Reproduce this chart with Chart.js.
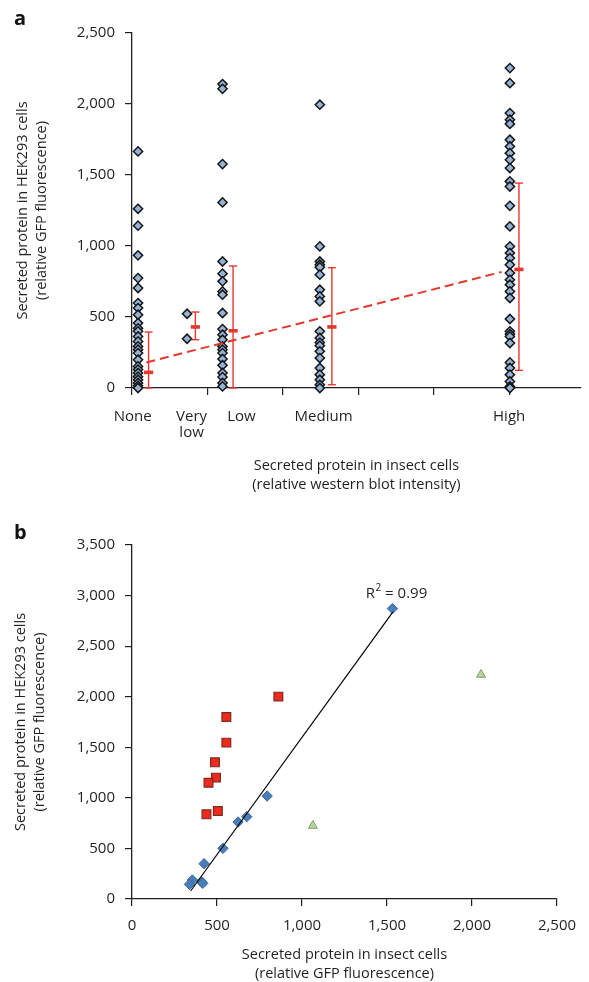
<!DOCTYPE html>
<html>
<head>
<meta charset="utf-8">
<title>Secreted protein: insect cells vs HEK293</title>
<script src="https://cdn.jsdelivr.net/npm/chart.js@4.4.0/dist/chart.umd.min.js"></script>
<style>
  html, body { margin: 0; padding: 0; background: #fff; }
  #wrap { position: relative; width: 589px; height: 982px; overflow: hidden; }
  canvas { position: absolute; left: 0; }
  #chartA { top: 0; }
  #chartB { top: 510px; }
  .panel { position: absolute; font-family: 'Open Sans', sans-serif; font-weight: 700;
           font-size: 20px; line-height: 20px; color: #111; }
</style>
</head>
<body>
<div id="wrap">
  <canvas id="chartA" width="589" height="500"></canvas>
  <canvas id="chartB" width="589" height="472"></canvas>
  <div class="panel" style="left:14px;top:8px">a</div>
  <div class="panel" style="left:14px;top:522px">b</div>
</div>
<script>
// -------------------------
// Panel a: datos
// -------------------------
const catNames  = [["None"], ["Very", "low"], ["Low"], ["Medium"], ["High"]];
const catX      = [0.08, 0.73, 1.2, 2.49, 5.01];   // columna de puntos
const catLabelX = [0.01, 0.79, 1.45, 2.54, 5.0];   // centro de la etiqueta

const noneY    = [1666, 1262, 1143, 934, 774, 704, 598, 563, 516, 457, 420, 399, 363, 328, 293, 270, 246, 199, 152, 130, 106, 80, 58, 35, 15, 0];
const veryLowY = [523, 347];
const lowY     = [2140, 2107, 1577, 1307, 891, 805, 751, 680, 657, 528, 415, 375, 340, 293, 270, 246, 204, 160, 106, 77, 35, 11];
const mediumY  = [1995, 997, 891, 868, 850, 798, 692, 645, 610, 399, 352, 320, 298, 258, 211, 141, 94, 58, 23, 0];
const highY    = [2253, 2147, 1936, 1889, 1860, 1748, 1701, 1654, 1607, 1549, 1455, 1419, 1283, 1138, 997, 950, 915, 868, 810, 762, 727, 680, 634, 486, 399, 380, 363, 317, 180, 141, 94, 46, 11, 0];

// barras de error (media, mínimo, máximo)
const errX    = [0.22, 0.84, 1.34, 2.65, 5.13];
const errMean = [110, 430, 403, 430, 835];
const errLow  = [0, 340, 0, 23, 124];
const errHigh = [394, 535, 859, 847, 1443];

// tendencia (extremos)
const trendX = [0.19, 4.9];
const trendY = [180, 817];

const yMaxA = 2500, yStepA = 500, xMaxA = 5.95;

// -------------------------
// Panel b: datos
// -------------------------
const blueX  = [1532, 795, 675, 624, 535, 424, 355, 338, 410, 416];
const blueY  = [2871, 1018, 814, 761, 501, 349, 188, 145, 171, 155];
const redX   = [861, 555, 555, 488, 494, 450, 505, 438];
const redY   = [2001, 1800, 1546, 1351, 1200, 1150, 870, 837];
const greenX = [2053, 1064];
const greenY = [2218, 725];
const fitX   = [345, 1536];
const fitY   = [79, 2841];
const r2Text = ["R", "2", " = 0.99"];
const r2At   = { x: 1375, y: 2980 };

const xMaxB = 2500, yMaxB = 3500, stepB = 500;

// -------------------------
// Estilo
// -------------------------
const RED = "#e03a2f";
const INK = "#231f20";
const FONT = "'Open Sans', sans-serif";

Chart.defaults.font.family = FONT;
Chart.defaults.font.size = 15;
Chart.defaults.color = INK;

function toXY(xs, ys){ return xs.map((x, i) => ({ x, y: ys[i] })); }

function axisLook(extra){
  return Object.assign({
    grid:   { display: true, drawOnChartArea: false, drawTicks: true, tickLength: 7, color: INK, lineWidth: 1.2 },
    border: { display: true, color: INK, width: 1.3 }
  }, extra);
}

function titleOpts(lines, padding){
  return { display: true, text: lines, color: INK, padding,
           font: { family: FONT, size: 14.5, lineHeight: "19px" } };
}

// -------------------------
// Plugins
// -------------------------
const categoryLabels = {
  id: "categoryLabels",
  afterDraw(chart){
    const { ctx, chartArea, scales } = chart;
    ctx.save();
    ctx.font = "15px " + FONT;
    ctx.fillStyle = INK;
    ctx.textAlign = "center";
    ctx.textBaseline = "middle";
    catNames.forEach((lines, i) => {
      const x = scales.x.getPixelForValue(catLabelX[i]);
      lines.forEach((t, j) => ctx.fillText(t, x, chartArea.bottom + 28.5 + j * 16.3));
    });
    ctx.restore();
  }
};

const r2Label = {
  id: "r2Label",
  afterDatasetsDraw(chart){
    const { ctx, scales } = chart;
    let x = scales.x.getPixelForValue(r2At.x);
    const y = scales.y.getPixelForValue(r2At.y);
    ctx.save();
    ctx.fillStyle = INK;
    ctx.textBaseline = "alphabetic";
    ctx.textAlign = "left";
    ctx.font = "15px " + FONT;
    ctx.fillText(r2Text[0], x, y);
    x += ctx.measureText(r2Text[0]).width + 0.5;
    ctx.font = "10px " + FONT;
    ctx.fillText(r2Text[1], x, y - 7);
    x += ctx.measureText(r2Text[1]).width;
    ctx.font = "15px " + FONT;
    ctx.fillText(r2Text[2], x, y);
    ctx.restore();
  }
};

// -------------------------
// Panel a
// -------------------------
const columns = [noneY, veryLowY, lowY, mediumY, highY];
const scatterA = columns.flatMap((ys, i) => ys.map(y => ({ x: catX[i], y })));

const errSegments = [];
errX.forEach((x, i) => {
  errSegments.push({ x, y: errLow[i] }, { x, y: errHigh[i] }, { x, y: null });
});

new Chart(document.getElementById("chartA"), {
  type: "scatter",
  data: {
    datasets: [
      { label: "proteínas", data: scatterA, order: 3, clip: false,
        pointStyle: "rectRot", pointRadius: 4.6, pointHoverRadius: 4.6,
        backgroundColor: "#95b3d7", borderColor: "#151515", borderWidth: 1.5 },
      { label: "tendencia", data: toXY(trendX, trendY), order: 2, showLine: true,
        borderColor: RED, borderWidth: 2, borderDash: [9, 5], pointRadius: 0 },
      { label: "rango", data: errSegments, order: 1, showLine: true, spanGaps: false, clip: false,
        borderColor: RED, borderWidth: 1.4, pointStyle: "line", pointRadius: 4,
        pointBorderColor: RED, pointBorderWidth: 1.4 },
      { label: "media", data: toXY(errX, errMean), order: 0, clip: false,
        pointStyle: "line", pointRadius: 4.6, borderColor: RED, borderWidth: 3.6 }
    ]
  },
  options: {
    responsive: false,
    animation: false,
    devicePixelRatio: 1,
    layout: { padding: { top: 33, right: 2, left: 0, bottom: 0 } },
    plugins: { legend: { display: false }, tooltip: { enabled: false } },
    scales: {
      x: axisLook({
        type: "linear", min: 0, max: xMaxA,
        ticks: { display: false, stepSize: 1, includeBounds: false },
        title: titleOpts(["Secreted protein in insect cells", "(relative western blot intensity)"], { top: 0, bottom: 5.5 }),
        afterFit(s){ s.height = 112; }
      }),
      y: axisLook({
        type: "linear", min: 0, max: yMaxA,
        ticks: { stepSize: yStepA, padding: 10, color: INK },
        title: titleOpts(["Secreted protein in HEK293 cells", "(relative GFP fluorescence)"], { top: 13.5, bottom: 0 }),
        afterFit(s){ s.width = 132; }
      })
    }
  },
  plugins: [categoryLabels]
});

// -------------------------
// Panel b
// -------------------------
new Chart(document.getElementById("chartB"), {
  type: "scatter",
  data: {
    datasets: [
      { label: "ajuste", data: toXY(fitX, fitY), order: 0, showLine: true,
        borderColor: "#000", borderWidth: 1.2, pointRadius: 0 },
      { label: "azul", data: toXY(blueX, blueY), order: 1, clip: false,
        pointStyle: "rectRot", pointRadius: 5.2, backgroundColor: "#4a7ebb",
        borderColor: "#3b669c", borderWidth: 1 },
      { label: "rojo", data: toXY(redX, redY), order: 2, clip: false,
        pointStyle: "rect", pointRadius: 6.2, backgroundColor: "#ee2a1e",
        borderColor: "#7d2a22", borderWidth: 1.2 },
      { label: "verde", data: toXY(greenX, greenY), order: 3, clip: false,
        pointStyle: "triangle", pointRadius: 5.2, backgroundColor: "#b5d69b",
        borderColor: "#7f9d6b", borderWidth: 1 }
    ]
  },
  options: {
    responsive: false,
    animation: false,
    devicePixelRatio: 1,
    layout: { padding: { top: 35, right: 32, left: 0, bottom: 0 } },
    plugins: { legend: { display: false }, tooltip: { enabled: false } },
    scales: {
      x: axisLook({
        type: "linear", min: 0, max: xMaxB,
        ticks: { stepSize: stepB, padding: 11, color: INK, maxRotation: 0 },
        title: titleOpts(["Secreted protein in insect cells", "(relative GFP fluorescence)"], { top: 0, bottom: -1 }),
        afterFit(s){ s.height = 83; }
      }),
      y: axisLook({
        type: "linear", min: 0, max: yMaxB,
        ticks: { stepSize: stepB, padding: 10, color: INK },
        title: titleOpts(["Secreted protein in HEK293 cells", "(relative GFP fluorescence)"], { top: 11.5, bottom: 0 }),
        afterFit(s){ s.width = 132; }
      })
    }
  },
  plugins: [r2Label]
});
</script>
</body>
</html>
